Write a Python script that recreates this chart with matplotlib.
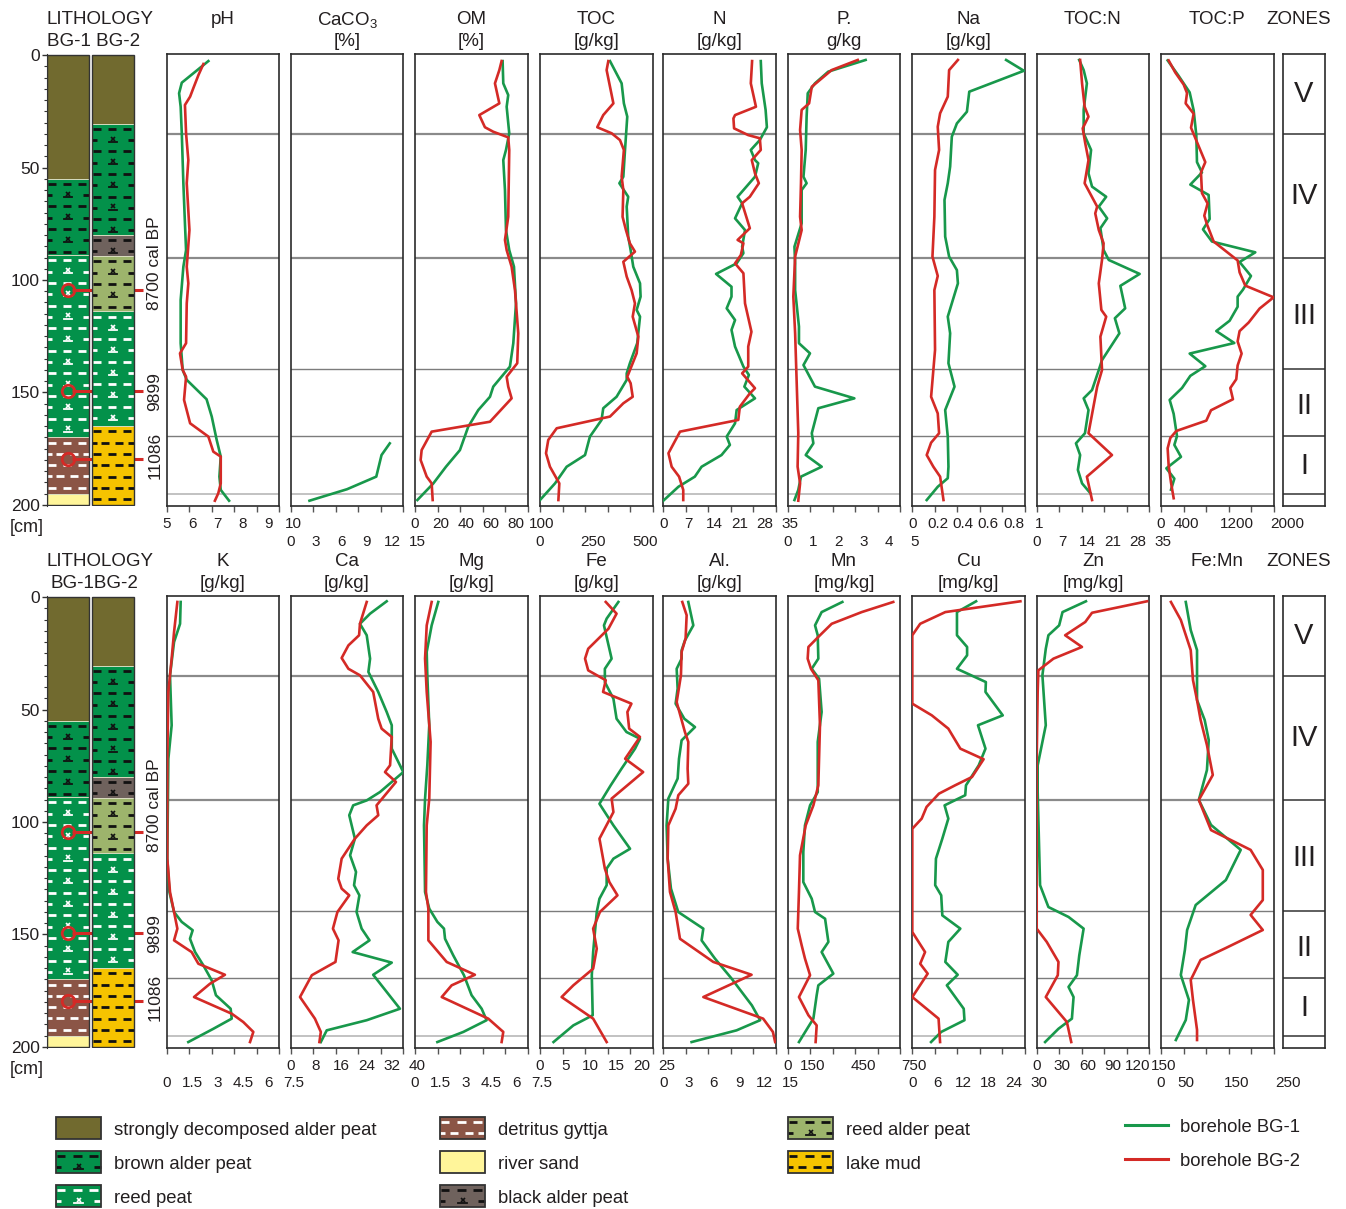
import numpy as np
import matplotlib
matplotlib.use('Agg')
import matplotlib.pyplot as plt
from matplotlib.patches import Rectangle
import matplotlib.transforms as mtransforms
from matplotlib.ticker import MultipleLocator

plt.rcParams['font.family'] = ['Liberation Sans', 'DejaVu Sans']
plt.rcParams['mathtext.fontset'] = 'custom'
plt.rcParams['mathtext.rm'] = 'Liberation Sans'
plt.rcParams['mathtext.it'] = 'Liberation Sans:italic'
plt.rcParams['text.color'] = '#231f20'

# ------------------------------------------------------------------ data
DEPTH_TICKS = [0, 50, 100, 150, 200]
ZONE_BOUNDS = [35.1, 90.0, 139.5, 169.5, 195.3]
ZONE_LABELS = ['V', 'IV', 'III', 'II', 'I']
ZONE_LABEL_DEPTHS = [17.5, 62.5, 116.0, 155.8, 182.5]

BG1_BOUNDS = [0, 55, 89, 170, 195, 200]
BG1_TYPES = ['sdap', 'bap', 'rp', 'dg', 'rs']
BG2_BOUNDS = [0, 30.5, 80, 89.5, 114, 165, 200]
BG2_TYPES = ['sdap', 'bap', 'blap', 'rap', 'rp', 'lm']
AGE_MARK_DEPTHS = [104.5, 149.5, 179.5]
AGE_LABELS = ['8700 cal BP', '9899', '11086']
AGE_LABEL_DEPTHS = [92.7, 149.5, 178.0]

LEGEND_KINDS = ['sdap', 'bap', 'rp', 'dg', 'rs', 'blap', 'rap', 'lm']
LEGEND_TEXTS = ['strongly decomposed alder peat', 'brown alder peat', 'reed peat',
                'detritus gyttja', 'river sand', 'black alder peat',
                'reed alder peat', 'lake mud']
SERIES_NAMES = ['borehole BG-1', 'borehole BG-2']

# pH
ph_d1 = [2.7,12.3,17.0,23.0,34.8,57.0,74.8,86.7,94.1,108.9,128.1,140.0,144.4,153.0,160.7,171.1,178.5,187.4,193.3,198.1]
ph_1 = [6.85,5.67,5.55,5.62,5.67,5.74,5.81,5.86,5.74,5.62,5.62,5.71,5.89,6.77,7.0,7.22,7.40,7.34,7.40,7.77]
ph_d2 = [4.0,8.9,14.8,18.5,22.2,34.8,46.7,57.0,77.8,94.1,101.5,110.4,128.1,132.6,140.0,143.0,153.3,163.7,169.6,176.3,178.5,190.4,194.8,198.1]
ph_2 = [6.63,6.41,6.18,6.04,5.81,5.86,5.96,5.89,6.01,5.89,5.96,5.89,5.86,5.59,5.71,5.86,5.77,6.04,6.85,7.07,7.40,7.40,7.29,7.14]
# CaCO3
caco3_d1 = [172.6,177.8,187.4,193.0,198.1]
caco3_1 = [13.2,12.1,11.4,7.5,2.5]
# OM
om_d1 = [2.7,12.6,17.8,23.0,34.8,42.2,46.7,60.0,77.8,86.7,94.1,110.4,128.1,138.5,147.4,151.9,157.8,165.2,175.6,183.0,190.4,197.8]
om_1 = [77.8,78.4,82.8,81.4,83.7,80.8,78.4,79.9,80.8,83.7,87.9,89.7,87.3,84.3,69.5,66.6,56.2,47.3,39.9,27.5,16.3,2.1]
om_d2 = [2.7,6.7,12.6,21.5,26.7,32.1,34.1,36.6,42.2,71.9,82.2,86.7,94.1,104.5,123.7,137.0,143.0,147.4,152.6,163.0,167.4,175.6,180.0,187.4,190.4,197.8]
om_2 = [76.9,74.9,71.0,74.9,57.1,62.1,69.5,82.8,83.7,82.8,79.9,81.4,85.8,88.8,91.7,90.8,81.4,82.8,85.8,66.6,14.8,5.9,5.0,10.4,14.8,15.7]
# TOC
toc_d1 = [2.7,12.6,21.5,27.4,42.2,54.1,57.0,63.0,67.4,80.7,86.7,94.1,101.5,107.4,113.3,116.3,128.1,137.0,141.5,144.4,151.9,157.0,162.2,169.6,177.8,183.0,190.4,197.8]
toc_1 = [373,435,447,465,453,444,423,470,462,470,483,497,533,536,515,533,518,479,462,462,408,337,328,266,240,142,80,0]
toc_d2 = [2.7,6.7,21.5,26.7,32.1,34.8,37.8,42.2,54.1,60.0,71.9,77.8,83.7,87.4,91.9,98.5,104.5,110.4,116.3,125.2,132.6,143.0,145.9,151.9,154.8,160.7,165.9,171.1,177.0,183.0,190.4,197.8]
toc_2 = [364,355,391,337,305,382,426,447,435,444,440,458,479,506,444,462,488,506,494,524,515,465,483,494,444,373,89,44,32,53,103,98]
# N
n_d1 = [2.7,12.6,24.4,32.1,37.8,42.2,46.7,48.1,54.1,63.0,65.9,72.6,77.8,85.2,88.1,92.6,97.3,103.0,107.4,112.6,117.8,122.2,129.6,138.5,142.2,147.4,152.6,157.8,163.7,169.6,173.3,177.8,183.0,187.4,191.9,198.1]
n_1 = [30.3,30.6,31.8,32.2,30.0,27.2,28.5,29.5,28.5,23.1,24.5,22.3,25.4,24.5,24.9,22.8,16.4,21.2,21.2,19.7,22.3,21.2,22.3,24.9,26.6,25.2,28.5,22.8,22.3,19.7,20.7,18.1,11.9,9.8,4.7,0.0]
n_d2 = [2.7,12.6,23.0,26.7,28.2,32.6,35.6,37.0,42.2,46.7,52.6,57.0,63.0,65.9,77.0,82.2,83.7,88.9,92.6,97.0,110.4,123.0,129.6,138.5,141.5,148.1,150.4,156.3,162.2,167.4,177.0,183.0,187.4,193.3,197.8]
n_2 = [27.6,27.2,28.8,22.3,21.8,22.0,26.4,30.0,30.3,27.5,28.5,29.7,26.9,24.5,26.9,23.1,24.9,24.1,22.3,24.9,25.4,27.4,26.4,26.4,24.5,28.5,26.9,23.8,23.3,5.2,1.6,2.6,4.9,6.2,6.2]
# P
p_d1 = [2.2,7.4,12.6,17.0,27.4,42.2,54.1,57.0,60.0,74.8,85.2,92.6,104.5,120.7,128.1,132.6,137.8,147.4,152.6,157.0,168.1,172.6,177.8,183.0,187.4,193.3,197.8]
p_1 = [3.46,1.80,1.21,0.89,0.84,0.80,0.70,0.84,0.62,0.62,0.30,0.33,0.33,0.50,0.50,0.99,0.70,1.21,2.96,1.36,1.07,1.14,0.80,1.51,0.59,0.47,0.30]
p_d2 = [2.2,6.7,14.1,21.5,24.4,33.3,42.2,57.0,71.9,77.8,89.6,107.4,123.7,145.9,168.1,183.0,190.4,198.1]
p_2 = [3.11,1.95,1.07,0.95,0.62,0.55,0.62,0.59,0.55,0.62,0.33,0.25,0.33,0.40,0.47,0.44,0.55,0.47]
# Na
na_d1 = [2.2,7.0,16.3,25.2,30.4,36.3,49.6,57.0,64.4,80.7,89.6,95.6,101.5,116.3,123.7,137.0,147.4,157.8,169.6,183.0,188.1,191.9,197.8]
na_1 = [0.833,0.991,0.506,0.485,0.396,0.351,0.336,0.315,0.286,0.292,0.327,0.396,0.405,0.315,0.336,0.321,0.375,0.292,0.315,0.321,0.315,0.226,0.128]
na_d2 = [2.2,6.7,18.5,25.9,31.9,42.2,51.1,71.9,89.6,98.2,104.5,131.1,151.9,159.3,168.1,172.3,177.8,183.0,187.4,197.8]
na_2 = [0.405,0.327,0.315,0.247,0.226,0.238,0.202,0.196,0.179,0.226,0.196,0.202,0.167,0.226,0.238,0.167,0.128,0.187,0.247,0.277]
# TOC:N
tocn_d1 = [2.2,6.7,12.6,24.4,34.8,42.2,52.6,58.5,63.0,67.4,72.6,77.0,86.7,91.1,97.3,102.6,112.6,117.0,123.7,135.6,140.0,148.9,152.6,157.8,168.1,172.6,177.8,184.4,190.4,194.8]
tocn_1 = [13.2,14.6,15.6,14.6,14.6,16.9,16.1,17.2,21.6,19.3,21.9,19.8,20.8,22.4,32.0,26.0,27.5,24.3,25.7,20.3,19.3,17.2,14.6,16.1,15.0,12.2,13.5,12.8,14.1,16.7]
tocn_d2 = [2.2,12.6,23.0,27.4,32.6,39.3,46.7,57.0,67.4,70.4,77.8,83.7,91.1,101.5,113.3,116.3,125.2,140.0,147.4,168.1,177.8,187.4,197.8]
tocn_2 = [13.5,14.1,14.9,16.1,14.3,15.1,16.1,14.9,18.8,18.2,19.3,20.8,20.3,19.3,20.1,21.6,19.8,20.3,18.8,16.1,23.4,15.6,17.2]
# TOC:P
tocp_d1 = [2.4,9.3,16.6,24.6,35.6,47.6,52.2,57.6,62.2,72.9,77.5,82.9,87.7,92.0,98.2,104.3,107.4,111.9,118.1,122.7,128.0,132.7,138.3,142.6,148.0,153.3,159.5,169.4,173.3,178.6,183.7,188.3,193.2]
tocp_1 = [118,314,509,580,627,639,728,521,846,864,746,905,1675,1396,1598,1456,1361,1361,1219,982,1302,509,787,521,373,154,225,284,237,355,95,237,178]
tocp_d2 = [2.4,7.8,13.1,16.9,21.5,26.1,32.3,36.9,47.6,52.2,61.4,66.0,71.4,75.2,82.9,91.3,96.6,102.5,107.7,112.7,118.9,122.7,127.3,132.7,138.0,144.1,148.0,153.0,157.9,162.5,167.1,170.2,174.8,182.5,190.1,197.0]
tocp_2 = [136,254,402,462,438,580,533,609,787,710,728,828,769,816,935,1361,1396,1497,2000,1751,1557,1396,1361,1432,1361,1337,1231,1278,888,805,272,166,118,136,178,225]
# K
k_d1 = [2.2,11.9,20.0,34.8,57.0,71.9,116.3,131.1,140.0,144.4,148.1,151.9,157.8,163.7,170.4,177.0,183.0,187.4,191.9,197.8]
k_1 = [0.93,0.89,0.49,0.22,0.33,0.11,0.04,0.18,0.49,1.0,1.73,1.55,1.89,2.44,3.0,3.28,4.26,4.33,3.11,1.44]
k_d2 = [2.2,15.6,27.4,42.2,71.9,116.3,131.1,140.0,147.4,152.6,157.8,163.0,167.9,171.9,177.8,185.2,188.9,193.3,197.8]
k_2 = [0.71,0.49,0.33,0.11,0.04,0.04,0.22,0.49,0.71,0.49,1.66,2.11,3.88,2.88,1.82,4.33,5.10,5.77,5.55]
# Ca
ca_d1 = [1.9,7.4,11.9,17.0,27.4,33.3,42.2,51.1,57.0,67.4,77.8,86.7,90.4,92.6,97.0,107.4,114.8,122.2,128.1,132.6,140.0,147.4,152.6,157.8,162.5,167.9,183.0,188.1,192.6,197.8]
ca_1 = [34.1,28.2,24.6,27.0,28.2,27.6,31.1,34.1,35.9,35.9,40.0,31.7,27.0,22.2,20.8,22.8,21.1,23.2,22.5,24.4,23.4,25.2,28.0,22.0,35.9,29.3,38.8,27.0,12.8,10.7]
ca_d2 = [2.2,11.9,17.0,21.5,27.1,31.9,34.8,42.2,54.1,58.5,62.2,74.8,77.8,82.2,92.6,97.0,101.5,107.4,116.3,125.2,129.6,132.6,140.0,147.4,152.6,162.2,168.1,177.8,187.4,193.3,197.8]
ca_2 = [27.0,24.6,24.3,20.5,18.1,20.5,24.6,29.3,31.1,32.3,35.9,35.3,33.5,37.4,30.5,31.1,27.0,22.8,18.1,16.9,18.1,20.8,16.6,15.0,17.0,15.9,7.5,3.3,8.6,10.7,10.2]
# Mg
mg_d1 = [2.2,12.6,24.4,34.8,57.0,74.8,89.6,101.5,131.1,138.5,144.4,147.4,151.9,159.3,168.1,177.0,183.0,188.1,193.3,197.8]
mg_1 = [1.55,1.11,0.78,0.82,0.95,0.82,0.67,0.60,0.67,0.95,1.49,1.93,2.0,2.55,3.26,3.77,4.44,4.77,3.22,1.49]
mg_d2 = [2.2,12.6,27.4,42.2,64.4,89.6,101.5,131.1,138.5,152.6,162.2,167.9,172.6,177.8,187.4,193.3,197.8]
mg_2 = [1.11,0.78,0.67,0.78,1.04,0.95,0.78,0.73,0.89,0.89,2.11,3.99,2.44,1.78,4.88,5.88,5.77]
# Fe
fe_d1 = [2.2,9.6,12.6,27.4,31.9,37.8,45.2,54.1,60.0,63.0,67.4,76.3,83.7,91.9,101.5,111.9,116.3,120.7,128.1,134.1,140.0,157.8,168.1,185.9,190.4,197.8]
fe_1 = [17.4,14.8,14.2,15.9,14.4,14.4,16.3,17.0,19.2,22.2,21.1,18.1,15.7,13.2,16.3,20.0,16.3,14.8,14.8,13.2,12.6,11.8,11.5,11.7,7.4,3.0]
fe_d2 = [2.2,7.4,14.1,23.0,27.4,32.6,37.0,42.2,47.4,51.1,58.5,62.2,71.9,77.8,89.6,95.6,107.4,120.7,126.7,132.6,140.0,147.4,156.3,165.2,172.6,177.8,187.4,197.8]
fe_2 = [14.6,17.0,15.2,10.7,10.0,10.7,14.6,14.0,20.3,19.4,19.8,22.2,18.9,22.9,15.9,16.3,13.2,14.4,15.4,17.2,13.3,11.8,12.6,11.8,7.4,4.8,11.8,14.8]
# Al
al_d1 = [2.2,12.6,19.3,23.7,27.4,31.9,40.7,47.4,54.1,57.8,63.7,71.9,80.7,89.6,101.5,116.3,129.6,140.0,147.4,152.6,160.7,169.6,181.5,188.1,192.6,197.8]
al_1 = [3.33,4.0,2.88,2.44,2.44,1.78,1.91,1.64,2.80,4.22,2.44,2.09,1.91,0.67,0.44,0.58,1.02,1.99,5.33,5.10,6.88,9.10,11.8,12.9,9.76,3.77]
al_d2 = [2.2,8.1,18.5,24.4,34.8,46.7,60.0,64.4,76.3,83.0,88.1,94.1,101.5,116.3,131.1,140.0,151.9,162.2,167.9,177.8,187.4,193.3,197.8]
al_2 = [2.53,3.11,2.97,2.44,2.35,1.78,2.88,3.33,3.24,3.33,2.0,1.64,0.67,0.58,0.89,1.64,2.22,6.66,11.76,5.33,13.3,14.6,14.9]
# Mn
mn_d1 = [2.2,6.7,12.6,17.0,27.4,31.9,36.3,51.1,64.4,86.7,92.6,101.5,113.3,126.7,134.1,140.0,143.0,153.3,157.8,167.4,172.6,177.0,187.4,197.8]
mn_1 = [364,226,182,200,204,160,209,226,200,200,149,115,104,104,160,182,249,271,226,304,204,193,171,75]
mn_d2 = [2.2,6.7,11.9,17.0,22.2,27.4,31.9,37.0,57.0,83.7,92.6,101.5,114.8,131.1,147.4,154.8,160.7,168.1,177.8,185.9,190.4,197.8]
mn_2 = [703,493,293,215,138,133,155,204,215,204,171,120,82,75,67,93,115,149,75,138,193,186]
# Cu
cu_d1 = [1.9,6.7,17.0,22.2,25.9,31.9,37.8,42.2,52.6,57.0,67.4,74.8,83.7,88.1,92.6,98.5,107.4,116.3,128.1,132.6,141.5,147.4,153.3,162.2,167.9,172.6,183.0,188.1,193.3,197.8]
cu_1 = [17.0,11.9,11.9,14.6,14.6,11.9,19.6,19.5,24.1,17.5,19.5,17.7,14.3,14.1,8.6,9.6,8.0,6.3,6.1,7.7,8.0,12.8,9.6,8.8,12.1,9.2,13.7,13.9,7.7,5.0]
cu_d2 = [1.9,6.7,11.9,17.0,47.4,52.6,58.5,67.4,72.1,80.0,83.7,87.4,93.3,98.5,103.0,148.9,157.8,163.0,167.4,177.8,187.4,197.8]
cu_2 = [28.8,8.8,2.1,0,0,5.2,9.6,12.8,19.0,15.9,11.4,7.1,3.8,2.5,0,0,3.4,2.1,4.1,0,7.0,7.4]
# Zn
zn_d1 = [1.9,6.7,12.6,17.0,23.0,34.8,57.0,74.8,86.7,128.1,137.8,142.2,147.4,159.3,168.1,173.3,177.8,187.4,191.9,197.8]
zn_1 = [65.6,34.4,29.9,15.6,12.1,7.6,12.1,1.3,1.3,4.5,15.6,42.4,62.5,56.7,53.6,42.4,49.1,46.9,29.0,11.2]
zn_d2 = [1.9,7.0,11.1,17.0,22.2,27.4,32.6,42.2,71.9,147.4,153.3,162.2,168.1,177.8,188.9,197.8]
zn_2 = [147,73.7,64.7,37.9,60.3,22.3,2.2,1.3,0,0,13.4,29.0,28.1,12.1,40.2,46.0]
# Fe:Mn
femn_d1 = [2.2,14.7,23.6,45.8,54.7,63.6,76.9,90.2,101.3,112.4,125.8,136.9,148.0,156.9,168.0,179.1,188.0,196.9]
femn_1 = [55,66,80,80,97,106,102,84,111,177,144,77,58,53,44,62,55,33]
femn_d2 = [2.2,10.2,23.6,36.9,45.8,54.7,65.8,79.1,90.2,103.6,112.4,121.3,134.7,141.3,148.0,156.0,161.3,170.2,179.1,192.4,196.9]
femn_2 = [22,44,66,71,80,88,102,115,84,111,199,226,226,199,226,144,88,66,71,80,80]

# titles, axis ranges, ticks and tick labels
TOP_TITLES = [('pH', ''), ('CaCO$_3$', '[%]'), ('OM', '[%]'), ('TOC', '[g/kg]'),
              ('N', '[g/kg]'), ('P.', 'g/kg'), ('Na', '[g/kg]'), ('TOC:N', ''), ('TOC:P', '')]
BOT_TITLES = [('K', '[g/kg]'), ('Ca', '[g/kg]'), ('Mg', '[g/kg]'), ('Fe', '[g/kg]'),
              ('Al.', '[g/kg]'), ('Mn', '[mg/kg]'), ('Cu', '[mg/kg]'), ('Zn', '[mg/kg]'), ('Fe:Mn', '')]
TOP_XLIM = [(5, 10), (0, 15), (0, 100), (0, 600), (0, 35), (0, 5), (0, 1), (0, 35), (0, 2000)]
BOT_XLIM = [(0, 7.5), (0, 40), (0, 7.5), (0, 25), (0, 15), (0, 750), (0, 30), (0, 150), (0, 250)]
TOP_TICKS = [[5, 6, 7, 8, 9, 10], [0, 3, 6, 9, 12, 15], [0, 20, 40, 60, 80, 100],
             [0, 120, 240, 360, 480, 600], [0, 7, 14, 21, 28, 35], [0, 1, 2, 3, 4, 5],
             [0, 0.2, 0.4, 0.6, 0.8, 1.0], [0, 7, 14, 21, 28, 35], [0, 400, 800, 1200, 1600, 2000]]
BOT_TICKS = [[0, 1.5, 3, 4.5, 6, 7.5], [0, 8, 16, 24, 32, 40], [0, 1.5, 3, 4.5, 6, 7.5],
             [0, 5, 10, 15, 20, 25], [0, 3, 6, 9, 12, 15], [0, 150, 300, 450, 600, 750],
             [0, 6, 12, 18, 24, 30], [0, 30, 60, 90, 120, 150], [0, 50, 100, 150, 200, 250]]
TOP_LABEL_VALUES = [[5, 6, 7, 8, 9, 10], [0, 3, 6, 9, 12, 15], [0, 20, 40, 60, 80, 100],
                    [0, 250, 500], [0, 7, 14, 21, 28, 35], [0, 1, 2, 3, 4, 5],
                    [0, 0.2, 0.4, 0.6, 0.8, 1.0], [0, 7, 14, 21, 28, 35], [0, 400, 1200, 2000]]
TOP_LABEL_TEXTS = [['5', '6', '7', '8', '9', '10'], ['0', '3', '6', '9', '12', '15'],
                   ['0', '20', '40', '60', '80', '100'], ['0', '250', '500'],
                   ['0', '7', '14', '21', '28', '35'], ['0', '1', '2', '3', '4', '5'],
                   ['0', '0.2', '0.4', '0.6', '0.8', '1'], ['0', '7', '14', '21', '28', '35'],
                   ['0', '400', '1200', '2000']]
BOT_LABEL_VALUES = [[0, 1.5, 3, 4.5, 6, 7.5], [0, 8, 16, 24, 32, 40], [0, 1.5, 3, 4.5, 6, 7.5],
                    [0, 5, 10, 15, 20, 25], [0, 3, 6, 9, 12, 15], [0, 150, 450, 750],
                    [0, 6, 12, 18, 24, 30], [0, 30, 60, 90, 120, 150], [0, 50, 150, 250]]
BOT_LABEL_TEXTS = [['0', '1.5', '3', '4.5', '6', '7.5'], ['0', '8', '16', '24', '32', '40'],
                   ['0', '1.5', '3', '4.5', '6', '7.5'], ['0', '5', '10', '15', '20', '25'],
                   ['0', '3', '6', '9', '12', '15'], ['0', '150', '450', '750'],
                   ['0', '6', '12', '18', '24', '30'], ['0', '30', '60', '90', '120', '150'],
                   ['0', '50', '150', '250']]
TOP_LABEL_ROW = [0, 1, 0, 1, 0, 1, 0, 1, 0]
BOT_LABEL_ROW = [1, 0, 1, 0, 1, 0, 1, 0, 1]

TOP_SERIES = [[(ph_d1, ph_1), (ph_d2, ph_2)], [(caco3_d1, caco3_1), None],
              [(om_d1, om_1), (om_d2, om_2)], [(toc_d1, toc_1), (toc_d2, toc_2)],
              [(n_d1, n_1), (n_d2, n_2)], [(p_d1, p_1), (p_d2, p_2)],
              [(na_d1, na_1), (na_d2, na_2)], [(tocn_d1, tocn_1), (tocn_d2, tocn_2)],
              [(tocp_d1, tocp_1), (tocp_d2, tocp_2)]]
BOT_SERIES = [[(k_d1, k_1), (k_d2, k_2)], [(ca_d1, ca_1), (ca_d2, ca_2)],
              [(mg_d1, mg_1), (mg_d2, mg_2)], [(fe_d1, fe_1), (fe_d2, fe_2)],
              [(al_d1, al_1), (al_d2, al_2)], [(mn_d1, mn_1), (mn_d2, mn_2)],
              [(cu_d1, cu_1), (cu_d2, cu_2)], [(zn_d1, zn_1), (zn_d2, zn_2)],
              [(femn_d1, femn_1), (femn_d2, femn_2)]]

# ------------------------------------------------------------------ style / layout
W, H = 1346, 1209
GREEN = '#18984b'
RED = '#d42a26'
TXT = '#231f20'
PANEL_X = [166.7, 290.7, 415.0, 540.0, 663.3, 787.7, 912.3, 1036.7, 1161.0]
PW = 112.6
LABEL_STRETCH = 1.125   # the tick-label rows of the original run slightly wider than the frames
TITLE_FS = 13.5
TICK_FS = 11
ROWS = [dict(y0=54, y1=506, t1=20, t2=42, l0=524, l1=542, cm=528, bg='BG-1 BG-2'),
        dict(y0=596, y1=1048, t1=561, t2=583, l0=1066, l1=1083, cm=1070, bg='BG-1BG-2')]
YLIM = (200.45, -0.45)
ZLW = [1.6, 1.6, 1.0, 1.0, 1.2]
ZCOL = ['#8a8a8a', '#8a8a8a', '#7c7c7c', '#7c7c7c', '#b8b8b8']
LITH_STYLE = {
    'sdap': ('#716a2f', None, False),
    'bap': ('#03914a', '#111111', True),
    'rp': ('#03914a', '#ffffff', True),
    'dg': ('#8b5546', '#ffffff', False),
    'rs': ('#fff59a', None, False),
    'blap': ('#6f625d', '#111111', True),
    'rap': ('#9db46c', '#111111', True),
    'lm': ('#f6c300', '#111111', False),
}

fig = plt.figure(figsize=(W / 100, H / 100), dpi=100)
fig.patch.set_facecolor('white')


def frect(x0, y0, x1, y1):
    return [x0 / W, 1 - y1 / H, (x1 - x0) / W, (y1 - y0) / H]


def fy(y):
    return 1 - y / H


def draw_layer(ax, x0, x1, top, bot, kind, unit_px, z):
    fc, dc, tuft = LITH_STYLE[kind]
    ax.add_patch(Rectangle((x0, top), x1 - x0, bot - top, facecolor=fc,
                           edgecolor='none', zorder=z))
    if dc is None:
        return
    step = 11.3 / unit_px
    w = x1 - x0
    ys = np.arange(top + 0.45 * step, bot - 0.2 * step, step)
    for k, y in enumerate(ys):
        if k % 2 == 0:
            segs = [(0.03, 0.21), (0.37, 0.57), (0.73, 0.93)]
        else:
            segs = [(0.0, 0.11), (0.85, 1.0)]
            if not tuft:
                segs += [(0.22, 0.41), (0.55, 0.74)]
        for a, b in segs:
            ax.plot([x0 + a * w, x0 + b * w], [y, y], color=dc, lw=2.0,
                    solid_capstyle='butt', zorder=z + 0.1)
        if tuft and k % 2 == 1:
            ax.plot([x0 + 0.5 * w], [y - 0.12 * step], marker='x', ms=3.4, mew=1.2,
                    color=dc, ls='none', zorder=z + 0.1)
            ax.plot([x0 + 0.41 * w, x0 + 0.59 * w], [y + 0.15 * step] * 2, color=dc,
                    lw=1.3, zorder=z + 0.1)


def lith_panel(r):
    ax = fig.add_axes(frect(47, r['y0'], 145, r['y1']))
    ax.set_xlim(47, 145)
    ax.set_ylim(*YLIM)
    ax.patch.set_visible(False)
    for s in ['top', 'right', 'bottom']:
        ax.spines[s].set_visible(False)
    ax.spines['left'].set_color('#333333')
    ax.set_xticks([])
    ax.set_yticks(DEPTH_TICKS)
    ax.yaxis.set_minor_locator(MultipleLocator(5))
    ax.tick_params(axis='y', which='major', length=3.5, width=1, pad=1.5,
                   labelsize=12.5, colors='#333333', labelcolor=TXT)
    ax.tick_params(axis='y', which='minor', length=2, width=0.8, colors='#333333')
    cols = [(47, 89, BG1_BOUNDS, BG1_TYPES, 2), (92, 134, BG2_BOUNDS, BG2_TYPES, 5)]
    for x0, x1, bounds, types, z in cols:
        for i, kind in enumerate(types):
            draw_layer(ax, x0, x1, bounds[i], bounds[i + 1], kind, 2.25, z)
            if i > 0:
                ax.plot([x0, x1], [bounds[i]] * 2, color='#d9dcc0', lw=0.7, zorder=z + 0.2)
        ax.add_patch(Rectangle((x0, bounds[0]), x1 - x0, bounds[-1] - bounds[0],
                               facecolor='none', edgecolor='#333333', lw=1.0, zorder=z + 0.5))
    for d in AGE_MARK_DEPTHS:
        ax.plot([72.5, 143], [d, d], color=RED, lw=2.2, zorder=4, clip_on=False,
                solid_capstyle='butt')
        ax.plot([68], [d], marker='o', ms=9, mfc='none', mec=RED, mew=2, zorder=8)
    for lab, d in zip(AGE_LABELS, AGE_LABEL_DEPTHS):
        ax.text(155, d, lab, rotation=90, ha='center', va='center', fontsize=12.5,
                clip_on=False)
    fig.text(100 / W, fy(r['t1']), 'LITHOLOGY', ha='center', va='center', fontsize=TITLE_FS)
    fig.text(94 / W, fy(r['t2']), r['bg'], ha='center', va='center', fontsize=TITLE_FS)
    fig.text(27 / W, fy(r['cm']), '[cm]', ha='center', va='center', fontsize=13)


def data_panel(r, x0, title, xlim, ticks, lvals, ltexts, lrow, series):
    ax = fig.add_axes(frect(x0, r['y0'], x0 + PW, r['y1']))
    ax.set_xlim(*xlim)
    ax.set_ylim(*YLIM)
    for zb, lw, c in zip(ZONE_BOUNDS, ZLW, ZCOL):
        ax.axhline(zb, color=c, lw=lw, zorder=1)
    for s, col in zip(series, [GREEN, RED]):
        if s is None:
            continue
        d, v = s
        ax.plot(v, d, color=col, lw=1.9, zorder=3 if col == GREEN else 4)
    ax.set_yticks([])
    ax.set_xticks(ticks)
    ax.set_xticklabels([])
    ax.tick_params(axis='x', direction='out', length=4, width=1, color='#555555')
    for sp in ax.spines.values():
        sp.set_color('#2b2b2b')
        sp.set_linewidth(1.2)
    trans = mtransforms.blended_transform_factory(ax.transAxes, fig.transFigure)
    ly = r['l0'] if lrow == 0 else r['l1']
    lo, hi = xlim
    for v, t in zip(lvals, ltexts):
        ax.text((v - lo) / (hi - lo) * LABEL_STRETCH, fy(ly), t, transform=trans,
                ha='center', va='center', fontsize=TICK_FS, clip_on=False)
    cx = (x0 + PW / 2) / W
    fig.text(cx, fy(r['t1']), title[0], ha='center', va='center', fontsize=TITLE_FS)
    if title[1]:
        fig.text(cx, fy(r['t2']), title[1], ha='center', va='center', fontsize=TITLE_FS)


def zone_panel(r):
    ax = fig.add_axes(frect(1283, r['y0'], 1325, r['y1']))
    ax.set_xlim(0, 1)
    ax.set_ylim(*YLIM)
    ax.set_xticks([])
    ax.set_yticks([])
    for sp in ax.spines.values():
        sp.set_color('#2b2b2b')
        sp.set_linewidth(1.2)
    for zb in ZONE_BOUNDS:
        ax.axhline(zb, color='#333333', lw=1.1)
    for lab, d in zip(ZONE_LABELS, ZONE_LABEL_DEPTHS):
        ax.text(0.5, d, lab, ha='center', va='center', fontsize=21)
    fig.text(1299 / W, fy(r['t1']), 'ZONES', ha='center', va='center', fontsize=TITLE_FS)


rows_spec = [(ROWS[0], TOP_TITLES, TOP_XLIM, TOP_TICKS, TOP_LABEL_VALUES, TOP_LABEL_TEXTS,
              TOP_LABEL_ROW, TOP_SERIES),
             (ROWS[1], BOT_TITLES, BOT_XLIM, BOT_TICKS, BOT_LABEL_VALUES, BOT_LABEL_TEXTS,
              BOT_LABEL_ROW, BOT_SERIES)]
for r, titles, xlims, ticks, lv, lt, lrow, ser in rows_spec:
    lith_panel(r)
    for i, x0 in enumerate(PANEL_X):
        data_panel(r, x0, titles[i], xlims[i], ticks[i], lv[i], lt[i], lrow[i], ser[i])
    zone_panel(r)

# ------------------------------------------------------------------ legend
lg = fig.add_axes([0, 0, 1, 1])
lg.set_xlim(0, W)
lg.set_ylim(H, 0)
lg.axis('off')
LEG_BOX_X = [56, 56, 56, 440, 440, 440, 788, 788]
LEG_BOX_Y = [1128, 1162, 1196, 1128, 1162, 1196, 1128, 1162]
for kind, txt, bx, by in zip(LEGEND_KINDS, LEGEND_TEXTS, LEG_BOX_X, LEG_BOX_Y):
    draw_layer(lg, bx, bx + 45, by - 11, by + 11, kind, 1.0, 2)
    lg.add_patch(Rectangle((bx, by - 11), 45, 22, facecolor='none', edgecolor='#333333',
                           lw=1.3, zorder=3))
    lg.text(bx + 58, by + 2.5, txt, ha='left', va='center', fontsize=13.3)
for name, col, yy in zip(SERIES_NAMES, [GREEN, RED], [1125, 1159]):
    lg.plot([1125, 1168], [yy, yy], color=col, lw=2.2)
    lg.text(1180, yy + 2, name, ha='left', va='center', fontsize=13.3)

fig.savefig('out.png', dpi=100)
